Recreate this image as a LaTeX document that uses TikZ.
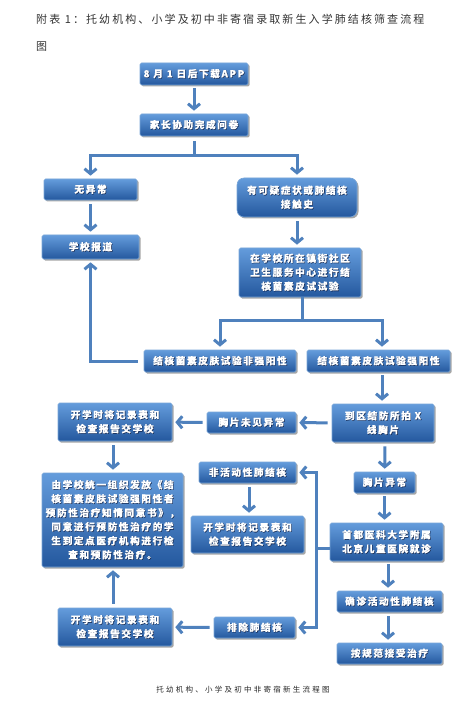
\documentclass[tikz,border=0pt]{standalone}
\usepackage{fontspec}
\setmainfont{Noto Sans CJK SC}
\newfontfamily\boxfont[LetterSpace=16,BoldFeatures={FakeBold=0.6}]{Noto Sans CJK SC}
\newfontfamily\titlefont[LetterSpace=19]{Noto Sans CJK SC}
\newfontfamily\capfont[LetterSpace=30]{Noto Sans CJK SC}
\usetikzlibrary{arrows.meta,shadows}
\definecolor{boxtop}{RGB}{100,156,220}
\definecolor{boxbot}{RGB}{36,88,158}
\definecolor{bordc}{RGB}{120,165,215}
\definecolor{lc}{RGB}{79,129,189}
\definecolor{txtsh}{RGB}{20,40,80}
\newcommand\tx[1]{\leavevmode\rlap{\kern0.6pt\raisebox{-0.6pt}{\color{txtsh}#1}}#1}
\begin{document}
\begin{tikzpicture}[x=1pt,y=-1pt,
  bx/.style={draw=bordc, line width=0.6pt, rounded corners=1.5pt,
    top color=boxtop, bottom color=boxbot, text=white,
    font=\boxfont\bfseries\fontsize{9.7}{14}\selectfont, align=center, inner sep=0pt,
    drop shadow={shadow xshift=1.5pt,shadow yshift=-1.5pt,fill=black,opacity=0.35}},
  wh/.style 2 args={minimum width=#1pt,minimum height=#2pt},
  ln/.style={draw=lc, line width=3pt},
  ar/.style={ln, -{Straight Barb[length=5pt,width=12pt]}, shorten >=3pt}
]
\useasboundingbox (0,0) rectangle (465,708);

% title
\node[anchor=west, inner sep=0pt, text=black!80, font=\titlefont\fontsize{11}{11}\selectfont] (t1) at (36,19)
  {附表 1：托幼机构、小学及初中非寄宿录取新生入学肺结核筛查流程};
\node[anchor=west, inner sep=0pt, text=black!80, font=\titlefont\fontsize{11}{11}\selectfont] (t2) at (36,47) {图};

% boxes
\node[bx,wh={108}{22}] (app) at (194,74) {\tx{8 月 1 日后下载APP}};
\node[bx,wh={108}{22}] (wj) at (194,125) {\tx{家长协助完成问卷}};
\node[bx,wh={93}{21}] (wy) at (90.5,189.5) {\tx{无异常}};
\node[bx,wh={120}{39},rounded corners=7pt] (ky) at (297,197.5) {\tx{有可疑症状或肺结核}\\\tx{接触史}};
\node[bx,wh={97}{24}] (bd) at (90.5,247) {\tx{学校报道}};
\node[bx,wh={122}{49}] (zx) at (300,272.5) {\tx{在学校所在镇街社区}\\\tx{卫生服务中心进行结}\\\tx{核菌素皮试试验}};
\node[bx,wh={152}{22}] (fq) at (220,361) {\tx{结核菌素皮肤试验非强阳性}};
\node[bx,wh={143}{22}] (qy) at (378.5,361) {\tx{结核菌素皮肤试验强阳性}};
\node[bx,wh={102}{38}] (dq) at (383,423) {\tx{到区结防所拍 X}\\\tx{线胸片}};
\node[bx,wh={89}{21}] (wjy) at (251.5,422.5) {\tx{胸片未见异常}};
\node[bx,wh={114}{38}] (k1) at (115,422) {\tx{开学时将记录表和}\\\tx{检查报告交学校}};
\node[bx,wh={141}{94}] (yx) at (112.5,520) {\tx{由学校统一组织发放《结}\\\tx{核菌素皮肤试验强阳性者}\\\tx{预防性治疗知情同意书》，}\\\tx{同意进行预防性治疗的学}\\\tx{生到定点医疗机构进行检}\\\tx{查和预防性治疗。}};
\node[bx,wh={97}{21}] (fh) at (247.5,472.5) {\tx{非活动性肺结核}};
\node[bx,wh={113}{37}] (k2) at (247.5,534.5) {\tx{开学时将记录表和}\\\tx{检查报告交学校}};
\node[bx,wh={61}{21}] (xy) at (384.5,482.5) {\tx{胸片异常}};
\node[bx,wh={113}{38}] (sd) at (386.5,542) {\tx{首都医科大学附属}\\\tx{北京儿童医院就诊}};
\node[bx,wh={105}{21}] (qz) at (389.5,601.5) {\tx{确诊活动性肺结核}};
\node[bx,wh={105}{21}] (agf) at (389.5,653.5) {\tx{按规范接受治疗}};
\node[bx,wh={81}{21}] (pc) at (254.5,627.5) {\tx{排除肺结核}};
\node[bx,wh={114}{38}] (k3) at (115,627) {\tx{开学时将记录表和}\\\tx{检查报告交学校}};

% caption
\node[inner sep=0pt, text=black!85, font=\capfont\fontsize{7.5}{8}\selectfont] (cap) at (243,690)
  {托幼机构、小学及初中非寄宿新生流程图};

% connectors
\coordinate (s1) at (194,156);
\coordinate (s2) at (302,320);
\coordinate (s3) at (316,548);

\draw[ar, shorten <=3pt] (app) -- (wj);
\draw[ln, shorten <=5pt] (wj.south) -- (s1);
\draw[ar] (s1) -| (wy.north);
\draw[ar] (s1) -| (ky.north);
\draw[ar, shorten <=4pt] (wy.south) -- (wy.south |- bd.north);
\draw[ar, shorten <=4pt] (ky.south) -- (ky.south |- zx.north);
\draw[ln, shorten <=0pt] (zx.south -| s2) -- (s2);
\draw[ar] (s2) -| (fq.north);
\draw[ar] (s2) -| ([xshift=3.5pt]qy.north);
\draw[ar, shorten <=6pt] (fq.west) -| (bd.south);
\draw[ar, shorten <=3pt] ([xshift=3.5pt]qy.south) -- ([xshift=-1pt]dq.north);
\draw[ar, shorten <=4pt] (dq) -- (wjy);
\draw[ar, shorten <=4pt] (wjy) -- (k1);
\draw[ar, shorten <=4pt] ([xshift=-2pt]k1.south) -- ([xshift=-2pt]k1.south |- yx.north);
\draw[ar, shorten <=4pt] ([xshift=2pt]dq.south) -- (xy);
\draw[ar, shorten <=3pt] (xy) -- (xy.south |- sd.north);
\draw[ln, shorten <=0pt] (sd.west |- s3) -- (s3);
\draw[ar] (s3) |- (fh.east);
\draw[ar] (s3) |- (pc.east);
\draw[ar, shorten <=4pt] ([xshift=1.5pt]fh.south) -- ([xshift=1.5pt]fh.south |- k2.north);
\draw[ar, shorten <=3pt] ([xshift=1.5pt]sd.south) -- ([xshift=-1.5pt]qz.north);
\draw[ar, shorten <=4pt] ([xshift=-1.5pt]qz.south) -- ([xshift=-1.5pt]agf.north);
\draw[ar, shorten <=4pt] (pc) -- (k3);
\draw[ar, shorten <=4pt] ([xshift=-2pt]k3.north) -- ([xshift=-2pt]k3.north |- yx.south);
\end{tikzpicture}
\end{document}
